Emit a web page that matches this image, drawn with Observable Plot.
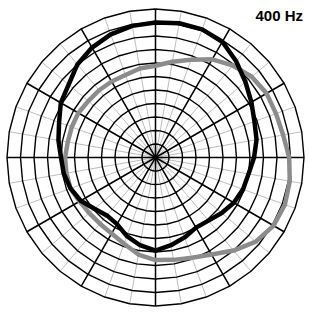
<!DOCTYPE html>
<html><head><meta charset="utf-8">
<script src="https://cdn.jsdelivr.net/npm/d3@7"></script>
<script src="https://cdn.jsdelivr.net/npm/@observablehq/plot@0.6"></script>
<style>html,body{margin:0;padding:0;background:#fff}</style>
</head><body><div id="chart"></div>
<script>
// ---- data (levels on a 0..11 ring scale, angle clockwise from top) ----
const title = "400 Hz";
const angles = [0,10,20,30,40,50,60,70,80,90,100,110,120,130,140,150,160,170,
                180,190,200,210,220,230,240,250,260,270,280,290,300,310,320,330,340,350];
const blackLevel = [10.0,10.1,10.1,9.9,9.3,8.7,8.2,7.8,7.6,7.3,7.0,6.9,6.7,6.4,6.1,6.0,6.3,6.6,
                    6.9,6.6,6.2,5.7,5.6,5.9,6.4,6.7,6.9,7.0,7.3,7.6,8.1,8.4,9.0,9.4,9.7,9.9];
const grayLevel  = [6.8,7.2,7.7,8.4,8.9,9.3,9.5,9.5,9.6,9.9,10.1,10.2,10.1,9.7,9.0,8.3,7.9,7.7,
                    7.6,7.3,6.8,6.5,6.4,6.4,6.5,6.7,6.7,6.7,6.6,6.6,6.6,6.5,6.5,6.5,6.5,6.7];
const ringLevels = [1,2,3,4,5,6,7,8,9,10,11];
const gridAngles = angles;              // thin gray spokes every 10°
const mainAngles = [0,30,60,90,120,150]; // black spokes (full diameters)
const outer = 11;

// ---- helpers ----
const rad = a => a * Math.PI / 180;
const px = (r, a) => r * Math.sin(rad(a));
const py = (r, a) => r * Math.cos(rad(a));

const ringPts = ringLevels.flatMap(r => gridAngles.map(a => ({r, a})));
const blackPts = angles.map((a, i) => ({a, r: blackLevel[i]}));
const grayPts = angles.map((a, i) => ({a, r: grayLevel[i]}));

const chart = Plot.plot({
  width: 309,
  height: 314,
  marginLeft: 6.5,
  marginRight: 5.5,
  marginTop: 8.5,
  marginBottom: 8.5,
  x: {domain: [-outer, outer], axis: null},
  y: {domain: [-outer, outer], axis: null},
  style: {background: "#fff"},
  marks: [
    Plot.link(gridAngles, {
      x1: 0, y1: 0, x2: a => px(outer, a), y2: a => py(outer, a),
      stroke: "#bdbdbd", strokeWidth: 1
    }),
    Plot.line(ringPts, {
      x: d => px(d.r, d.a), y: d => py(d.r, d.a), z: "r",
      curve: "linear-closed", stroke: "#000", strokeWidth: 1.4
    }),
    Plot.link(mainAngles, {
      x1: a => px(-outer, a), y1: a => py(-outer, a),
      x2: a => px(outer, a), y2: a => py(outer, a),
      stroke: "#000", strokeWidth: 1.5
    }),
    Plot.line(grayPts, {
      x: d => px(d.r, d.a), y: d => py(d.r, d.a),
      curve: "linear-closed", stroke: "#8c8c8c", strokeWidth: 4.5
    }),
    Plot.line(blackPts, {
      x: d => px(d.r, d.a), y: d => py(d.r, d.a),
      curve: "linear-closed", stroke: "#000", strokeWidth: 4.5
    }),
    Plot.text([title], {
      frameAnchor: "top-right", textAnchor: "end", lineAnchor: "top",
      dx: -1, dy: 1, fontSize: 15, fontWeight: "bold", fill: "#000"
    })
  ]
});
chart.style.fontFamily = "'Liberation Sans', Arial, sans-serif";
document.getElementById("chart").append(chart);
</script>
</body></html>
